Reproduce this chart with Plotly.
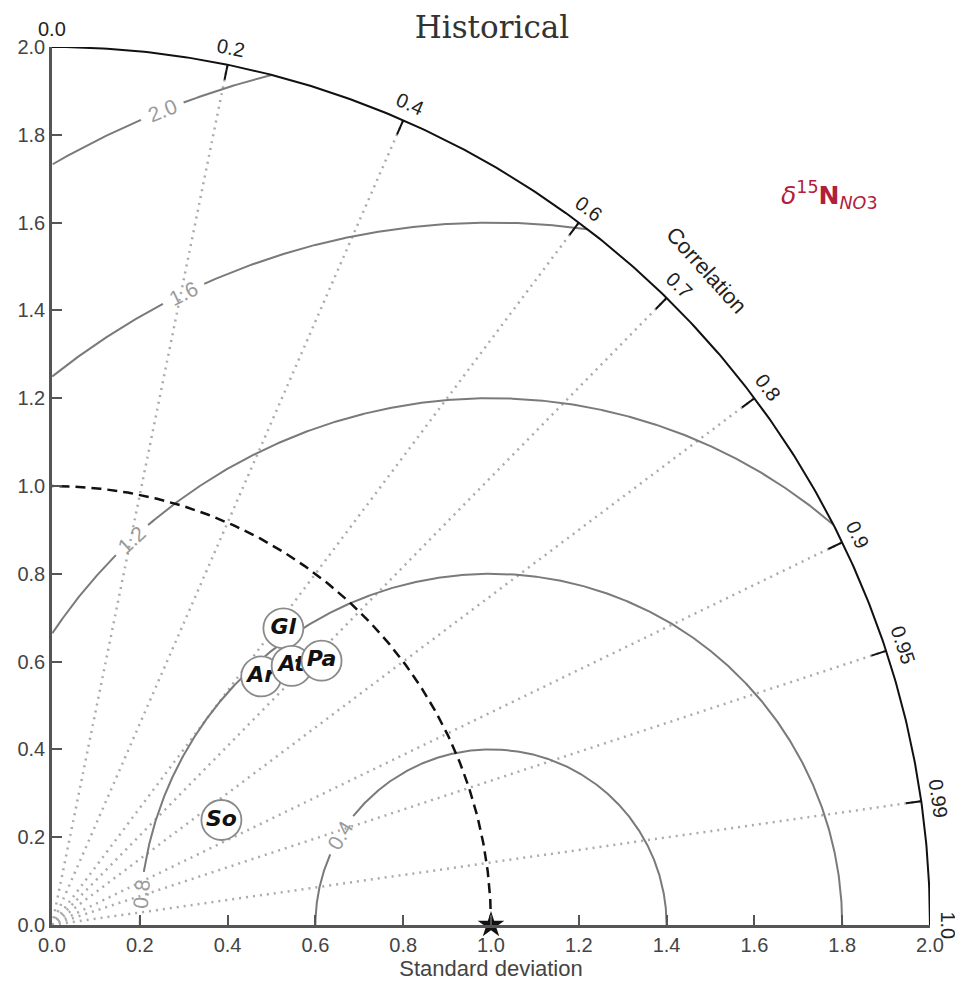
import numpy as np
import plotly.graph_objects as go

# ---------------- data ----------------
models = ["Gl", "Ar", "At", "Pa", "So"]
model_std = [0.857, 0.740, 0.804, 0.860, 0.454]
model_corr = [0.615, 0.644, 0.679, 0.714, 0.850]
ref_std = 1.0
std_max = 2.0
std_ticks = [0.0, 0.2, 0.4, 0.6, 0.8, 1.0, 1.2, 1.4, 1.6, 1.8, 2.0]
corr_ticks = [0.0, 0.2, 0.4, 0.6, 0.7, 0.8, 0.9, 0.95, 0.99, 1.0]
corr_lines = [0.2, 0.4, 0.6, 0.7, 0.8, 0.9, 0.95, 0.99]
rms_levels = [0.4, 0.8, 1.2, 1.6, 2.0]
rms_label_angle = [149, 175, 133, 116, 112]  # degrees around the reference point

fig = go.Figure()


def paper(x, y):
    return x / std_max, y / std_max


def note(x, y, text, angle, font):
    px_, py_ = paper(x, y)
    fig.add_annotation(x=px_, y=py_, xref="paper", yref="paper", text=text,
                       xanchor="center", yanchor="middle", showarrow=False,
                       textangle=angle, font=font)


# dotted correlation lines
for c in corr_lines:
    t = np.arccos(c)
    fig.add_trace(go.Scatter(x=[0, std_max * np.cos(t)], y=[0, std_max * np.sin(t)],
                             mode="lines", line=dict(color="#ababab", width=2.5, dash="2px,5px"),
                             hoverinfo="skip", showlegend=False, cliponaxis=False))

# RMS contours with gaps for labels
gap = 0.05
for R, la in zip(rms_levels, rms_label_angle):
    phi = np.linspace(0, np.pi, 1200)
    xs = ref_std + R * np.cos(phi)
    ys = R * np.sin(phi)
    gd = np.degrees(gap / R)
    mask = (xs >= 0) & (np.hypot(xs, ys) <= std_max) & (np.abs(np.degrees(phi) - la) > gd)
    xs = np.where(mask, xs, np.nan)
    ys = np.where(mask, ys, np.nan)
    fig.add_trace(go.Scatter(x=xs, y=ys, mode="lines", connectgaps=False,
                             line=dict(color="#7a7a7a", width=2),
                             hoverinfo="skip", showlegend=False, cliponaxis=False))
    p = np.radians(la)
    note(ref_std + R * np.cos(p), R * np.sin(p), f"{R:.1f}", 90 - la,
         dict(family="Liberation Sans", size=21, color="#9a9a9a"))

# reference dashed arc
th = np.linspace(0, np.pi / 2, 300)
fig.add_trace(go.Scatter(x=ref_std * np.cos(th), y=ref_std * np.sin(th), mode="lines",
                         line=dict(color="#111111", width=2.5, dash="10px,6px"),
                         hoverinfo="skip", showlegend=False, cliponaxis=False))

# outer arc
fig.add_trace(go.Scatter(x=std_max * np.cos(th), y=std_max * np.sin(th), mode="lines",
                         line=dict(color="#111111", width=2),
                         hoverinfo="skip", showlegend=False, cliponaxis=False))

# correlation ticks and labels
for c in corr_ticks:
    t = np.arccos(c)
    if 0 < c < 1:
        fig.add_trace(go.Scatter(x=[std_max * np.cos(t), (std_max - 0.035) * np.cos(t)],
                                 y=[std_max * np.sin(t), (std_max - 0.035) * np.sin(t)],
                                 mode="lines", line=dict(color="#111111", width=2),
                                 hoverinfo="skip", showlegend=False, cliponaxis=False))
    rl = 2.04
    label = f"{c:.1f}" if c in (0.0, 1.0) else f"{c:g}"
    note(rl * np.cos(t), rl * np.sin(t), label, 90 - np.degrees(t),
         dict(family="Liberation Sans", size=20, color="#222222"))

note(2.11 * np.cos(np.pi / 4), 2.11 * np.sin(np.pi / 4), "Correlation", 48,
     dict(family="Liberation Sans", size=22, color="#222222"))

# reference star
fig.add_trace(go.Scatter(x=[ref_std], y=[0], mode="markers",
                         marker=dict(symbol="star", size=20, color="#111111"),
                         hoverinfo="skip", showlegend=False, cliponaxis=False))

# models
for name, s, c in zip(models, model_std, model_corr):
    t = np.arccos(c)
    fig.add_trace(go.Scatter(x=[s * np.cos(t)], y=[s * np.sin(t)], mode="markers+text",
                             text=[name], textposition="middle center",
                             marker=dict(size=40, color="white", line=dict(color="#8a8a8a", width=1.8)),
                             textfont=dict(family="DejaVu Sans", size=22, color="#111111",
                                           weight="bold", style="italic"),
                             showlegend=False, cliponaxis=False, name=name))

# species label
note(1.772, 1.663, "<i>δ</i><sup>15</sup><b>N</b><sub><i>NO</i>3</sub>", 0,
     dict(family="DejaVu Sans", size=25, color="#b0203a"))

axis_common = dict(range=[0, std_max], tickvals=std_ticks, ticktext=[f"{v:.1f}" for v in std_ticks],
                   showgrid=False, zeroline=False, showline=True, linecolor="#555555", linewidth=2.5,
                   ticks="inside", ticklen=10, tickwidth=2, tickcolor="#555555", automargin=False,
                   tickfont=dict(family="Liberation Sans", size=20, color="#444444"))

fig.update_layout(
    width=963, height=990,
    margin=dict(l=44, r=41, t=39, b=73),
    paper_bgcolor="white", plot_bgcolor="white",
    title=dict(text="Historical", x=0.5026, xanchor="center", y=0.981, yanchor="middle",
               font=dict(family="DejaVu Serif", size=31, color="#333333")),
    xaxis=dict(axis_common, title=dict(text="Standard deviation", standoff=4,
                                        font=dict(family="Liberation Sans", size=22, color="#444444"))),
    yaxis=dict(axis_common),
)

fig.write_html("out.html")
